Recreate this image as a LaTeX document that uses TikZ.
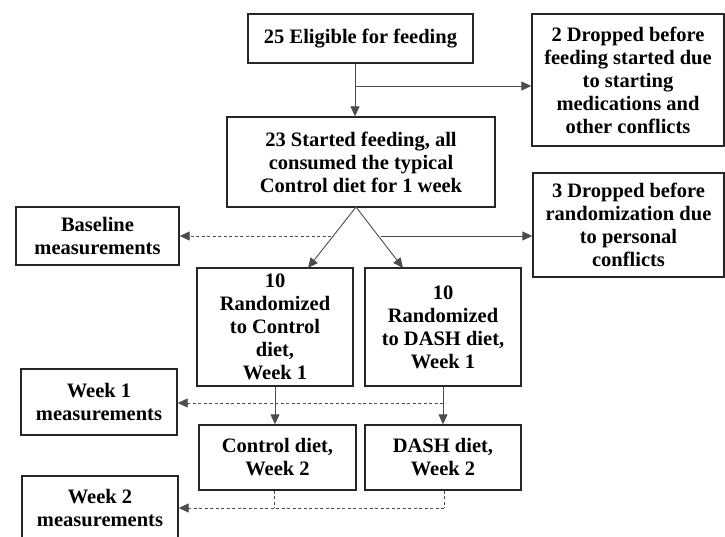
\documentclass[tikz,border=0pt]{standalone}
\usepackage{fontspec}
\setmainfont{Liberation Serif}
\usetikzlibrary{arrows.meta,calc}
\begin{document}
\begin{tikzpicture}[x=1pt,y=-1pt,
  box/.style={draw=black!85, line width=1.4pt, align=center, inner sep=0pt,
    font=\bfseries\fontsize{20.5}{23}\selectfont, text=black},
  conn/.style={draw=black!70, line width=0.9pt},
  arr/.style={conn, -{Triangle[length=10pt,width=9pt]}},
  dsh/.style={conn, dash pattern=on 3pt off 2.5pt},
  darr/.style={dsh, -{Triangle[length=10pt,width=9pt]}}]
\useasboundingbox (0,0) rectangle (725,537);
\fill[white] (0,0) rectangle (725,537);

\node[box, minimum width=225pt, minimum height=49pt] (elig) at (360.5,38.5) {25 Eligible for feeding};
\node[box, minimum width=192pt, minimum height=132pt] (drop2) at (628,80) {2 Dropped before\\feeding started due\\to starting\\medications and\\other conflicts};
\node[box, minimum width=268pt, minimum height=90pt] (start) at (361,162) {23 Started feeding, all\\consumed the typical\\Control diet for 1 week};
\node[box, minimum width=191pt, minimum height=104pt] (drop3) at (628.5,225) {3 Dropped before\\randomization due\\to personal\\conflicts};
\node[box, minimum width=163pt, minimum height=58pt] (base) at (97.5,236) {Baseline\\measurements};
\node[box, minimum width=156pt, minimum height=118pt] (rc) at (275,327) {10\\Randomized\\to Control\\diet,\\Week 1};
\node[box, minimum width=156pt, minimum height=118pt] (rd) at (443,327) {10\\Randomized\\to DASH diet,\\Week 1};
\node[box, minimum width=156pt, minimum height=66pt] (wk1) at (99,402) {Week 1\\measurements};
\node[box, minimum width=157pt, minimum height=65pt] (c2) at (277.5,457.5) {Control diet,\\Week 2};
\node[box, minimum width=156pt, minimum height=65pt] (d2) at (443,457.5) {DASH diet,\\Week 2};
\node[box, minimum width=156pt, minimum height=65pt] (wk2) at (100,508.5) {Week 2\\measurements};

\coordinate (j1) at (355,86);
\draw[arr] (elig.south -| j1) -- (start.north -| j1);
\draw[arr] (j1) -- (j1 -| drop2.west);

\coordinate (fork) at (356,207);
\coordinate (rcin) at (308,268);
\coordinate (rdin) at (403,268);
\draw[arr] (fork) -- (rcin);
\draw[arr] (fork) -- (rdin);
\coordinate (dl) at (331,236);
\coordinate (dr) at (381,236);
\draw[darr] (dl) -- (dl -| base.east);
\draw[arr] (dr) -- (dr -| drop3.west);

\draw[arr] (rc.south) -- (rc.south |- c2.north);
\draw[arr] (rd.south) -- (d2.north);
\coordinate (w1) at (443,403);
\draw[darr] (w1) -- (w1 -| wk1.east);

\coordinate (w2a) at (274,508);
\coordinate (w2b) at (444,508);
\draw[dsh] (c2.south -| w2a) -- (w2a);
\draw[dsh] (d2.south -| w2b) -- (w2b);
\draw[darr] (w2b) -- (w2b -| wk2.east);
\end{tikzpicture}
\end{document}
